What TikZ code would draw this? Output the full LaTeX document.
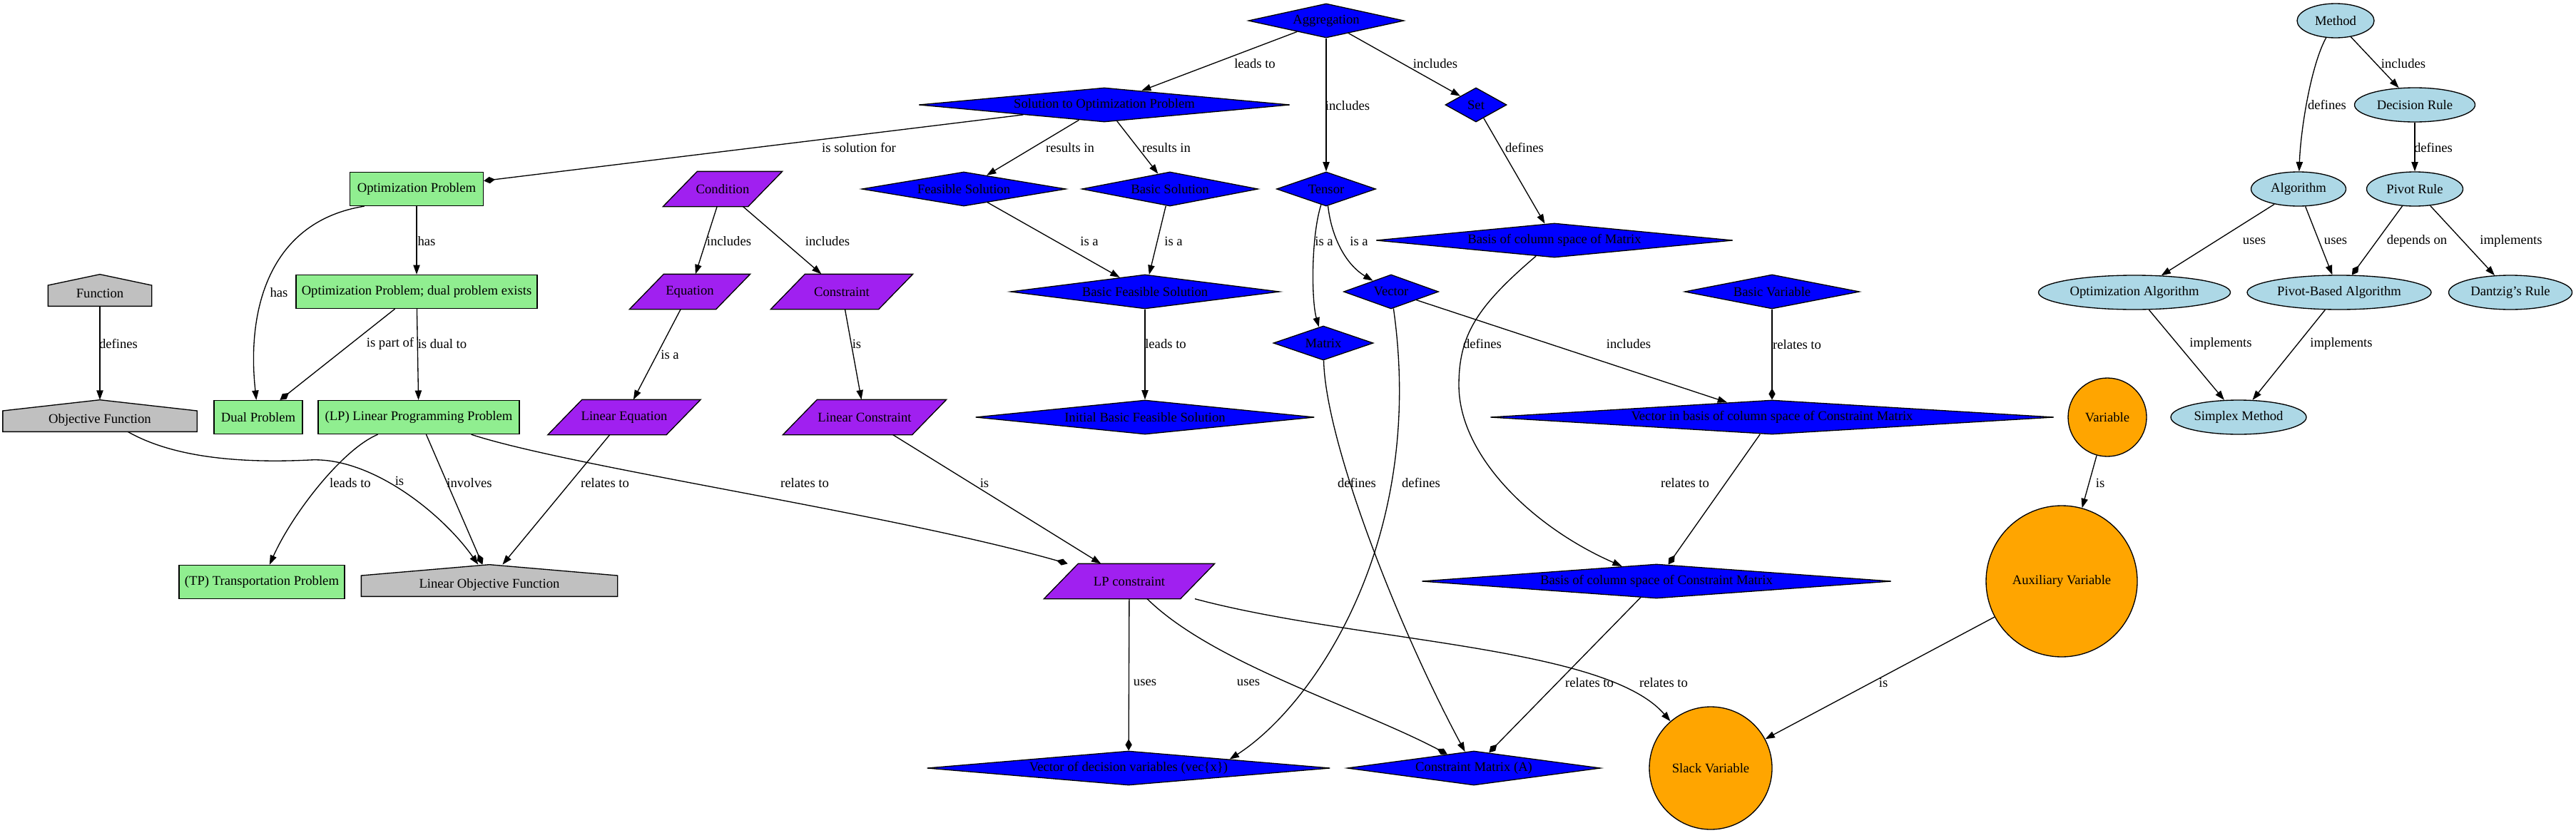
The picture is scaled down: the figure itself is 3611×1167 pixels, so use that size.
\documentclass[tikz,border=0pt]{standalone}
\usepackage{fontspec}
\setmainfont{Liberation Serif}
\usetikzlibrary{shapes.geometric,arrows.meta}
\definecolor{dblue}{RGB}{0,0,255}
\definecolor{purp}{RGB}{160,32,240}
\definecolor{lgreen}{RGB}{144,238,144}
\definecolor{lgrey}{RGB}{192,192,192}
\definecolor{lblue}{RGB}{173,216,230}
\definecolor{orng}{RGB}{255,165,0}
\pgfdeclarelayer{background}
\pgfsetlayers{background,main}
\tikzset{
 base/.style={font=\fontsize{14}{16}\selectfont, inner sep=0pt, line width=1pt},
 bd/.style={base, diamond, draw=black, fill=dblue, minimum width=#1*0.75pt, minimum height=36pt,
   /utils/exec={\pgfmathsetmacro\myasp{#1/48}}, aspect=\myasp},
 gbox/.style={base, rectangle, draw=black, fill=lgreen, minimum width=#1*0.75pt, minimum height=35.25pt},
 ell/.style={base, ellipse, draw=black, fill=lblue, minimum width=#1*0.75pt, minimum height=36pt},
 circ/.style={base, circle, draw=black, fill=orng, minimum size=#1*0.75pt},
 para/.style={base, rectangle, minimum width=#1*0.75pt, minimum height=36pt},
 hs/.style={base, rectangle, minimum width=#1*0.75pt, minimum height=32.5pt, text height=19pt, text depth=3.5pt},
 lbl/.style={font=\fontsize{14}{16}\selectfont, inner sep=1pt},
 arr/.style={line width=1pt, -{Triangle[length=10pt,width=7pt]}},
 darr/.style={line width=1pt, -{Diamond[length=12pt,width=7pt]}},
 pshape/.style={fill=purp, draw=black, line width=1pt},
 hshape/.style={fill=lgrey, draw=black, line width=1pt},
}
\begin{document}
\begin{tikzpicture}[x=0.75pt,y=-0.75pt]
\begin{pgfonlayer}{background}
\fill[white] (0,0) rectangle (3611,1167);
\end{pgfonlayer}
\useasboundingbox (0,0) rectangle (3611,1167);

% blue diamonds
\node[bd=218] (agg) at (1859,29) {Aggregation};
\node[bd=520] (sol) at (1548,147) {Solution to Optimization Problem};
\node[bd=86] (set) at (2069,147) {Set};
\node[bd=286] (feas) at (1351,265) {Feasible Solution};
\node[bd=247] (bsol) at (1640,265) {Basic Solution};
\node[bd=139] (tensor) at (1859,265) {Tensor};
\node[bd=500] (bcm) at (2179,337) {Basis of column space of Matrix};
\node[bd=377] (bfs) at (1605,409) {Basic Feasible Solution};
\node[bd=133] (vector) at (1950,409) {Vector};
\node[bd=245] (bvar) at (2484,409) {Basic Variable};
\node[bd=140] (matrix) at (1855,481) {Matrix};
\node[bd=475] (ibfs) at (1605,585) {Initial Basic Feasible Solution};
\node[bd=790] (vib) at (2484,585) {Vector in basis of column space of Constraint Matrix};
\node[bd=658] (bccm) at (2322,815) {Basis of column space of Constraint Matrix};
\node[bd=565] (vecx) at (1582,1077) {Vector of decision variables (vec\{x\})};
\node[bd=355] (cmat) at (2066,1077) {Constraint Matrix (A)};

% green boxes
\node[gbox=187] (optp) at (584,265) {Optimization Problem};
\node[gbox=338] (optd) at (584,409) {Optimization Problem; dual problem exists};
\node[gbox=124] (dual) at (362,585) {Dual Problem};
\node[gbox=282] (lp) at (587,585) {(LP) Linear Programming Problem};
\node[gbox=232] (tp) at (367,816) {(TP) Transportation Problem};

% grey houses
\node[hs=144] (func) at (140,407) {Function};
\node[hs=271] (objf) at (140,583) {Objective Function};
\node[hs=358] (linobj) at (686,814) {Linear Objective Function};

% purple parallelograms
\node[para=118] (cond) at (1013,265) {Condition};
\node[para=120] (eq) at (967,409) {Equation};
\node[para=150] (con) at (1180,409) {Constraint};
\node[para=165] (lineq) at (875,585) {Linear Equation};
\node[para=180] (lincon) at (1212,585) {Linear Constraint};
\node[para=190] (lpcon) at (1583,815) {LP constraint};

% light blue ellipses
\node[ell=108] (method) at (3274,29) {Method};
\node[ell=169] (dr) at (3385,147) {Decision Rule};
\node[ell=133] (alg) at (3222,265) {Algorithm};
\node[ell=135] (pr) at (3385,265) {Pivot Rule};
\node[ell=269] (optalg) at (2992,410) {Optimization Algorithm};
\node[ell=258] (pb) at (3279,410) {Pivot-Based Algorithm};
\node[ell=173] (dantzig) at (3519,410) {Dantzig's Rule};
\node[ell=190] (simplex) at (3138,585) {Simplex Method};

% orange circles
\node[circ=110] (var) at (2954,585) {Variable};
\node[circ=212] (aux) at (2890,815) {Auxiliary Variable};
\node[circ=172] (slack) at (2398,1077) {Slack Variable};

\begin{pgfonlayer}{background}
\foreach \n in {cond,eq,con,lineq,lincon,lpcon}{
  \path[pshape] ([xshift=-18pt]\n.south west) -- ([xshift=-18pt]\n.south east)
     -- ([xshift=18pt]\n.north east) -- ([xshift=18pt]\n.north west) -- cycle;}
\foreach \n in {func,objf,linobj}{
  \path[hshape] (\n.south west) -- (\n.south east) -- ([yshift=-11.5pt]\n.north east)
     -- (\n.north) -- ([yshift=-11.5pt]\n.north west) -- cycle;}
\end{pgfonlayer}

% edges: top component
\draw[arr] (agg) -- (sol) node[lbl,at={(1759,89)}] {leads to};
\draw[arr] (agg) -- (tensor) node[lbl,at={(1889,148)}] {includes};
\draw[arr] (agg) -- (set) node[lbl,at={(2012,89)}] {includes};
\draw[darr] (sol) -- (optp) node[lbl,at={(1204,207)}] {is solution for};
\draw[arr] (sol) -- (feas) node[lbl,at={(1500,207)}] {results in};
\draw[arr] (sol) -- (bsol) node[lbl,at={(1635,207)}] {results in};
\draw[arr] (set) -- (bcm) node[lbl,at={(2137,207)}] {defines};
\draw[arr] (feas) -- (bfs) node[lbl,at={(1527,338)}] {is a};
\draw[arr] (bsol) -- (bfs) node[lbl,at={(1645,338)}] {is a};
\draw[arr] (bfs) -- (ibfs) node[lbl,at={(1634,482)}] {leads to};
\draw[arr] (tensor) .. controls (1838,330) and (1838,420) .. (matrix) node[lbl,at={(1856,338)}] {is a};
\draw[arr] (tensor) .. controls (1866,330) and (1885,370) .. (vector) node[lbl,at={(1905,338)}] {is a};
\draw[arr] (vector) -- (vib) node[lbl,at={(2283,482)}] {includes};
\draw[arr] (bcm) .. controls (2070,430) and (2045,470) .. (2045,540) .. controls (2045,640) and (2150,740) .. (bccm) node[lbl,at={(2078,482)}] {defines};
\draw[darr] (bvar) -- (vib) node[lbl,at={(2519,483)}] {relates to};
\draw[darr] (vib) -- (bccm) node[lbl,at={(2362,677)}] {relates to};
\draw[darr] (bccm) -- (cmat) node[lbl,at={(2228,957)}] {relates to};
\draw[arr] (matrix) .. controls (1858,620) and (1960,880) .. (cmat) node[lbl,at={(1902,677)}] {defines};
\draw[arr] (vector) .. controls (2000,760) and (1840,990) .. (vecx.north east) node[lbl,at={(1992,677)}] {defines};
\draw[darr] (lpcon) -- (vecx) node[lbl,at={(1605,957)}] {uses};
\draw[darr] (lpcon) .. controls (1700,930) and (1900,990) .. (cmat) node[lbl,at={(1750,957)}] {uses};
\draw[arr] (lpcon) .. controls (1900,900) and (2250,905) .. (slack) node[lbl,at={(2332,957)}] {relates to};
\draw[arr] (var) -- (aux) node[lbl,at={(2944,677)}] {is};
\draw[arr] (aux) -- (slack) node[lbl,at={(2640,957)}] {is};

% left part
\draw[arr] (cond) -- (eq) node[lbl,at={(1022,338)}] {includes};
\draw[arr] (cond) -- (con) node[lbl,at={(1160,338)}] {includes};
\draw[arr] (eq) -- (lineq) node[lbl,at={(939,497)}] {is a};
\draw[arr] (con) -- (lincon) node[lbl,at={(1201,482)}] {is};
\draw[arr] (lincon) -- (lpcon) node[lbl,at={(1380,677)}] {is};
\draw[arr] (lineq) -- (linobj) node[lbl,at={(848,677)}] {relates to};
\draw[darr] (lp) -- (linobj) node[lbl,at={(658,677)}] {involves};
\draw[arr] (objf) .. controls (240,640) and (330,650) .. (434,645) .. controls (520,640) and (620,720) .. (linobj) node[lbl,at={(560,674)}] {is};
\draw[arr] (lp) .. controls (480,630) and (410,720) .. (tp) node[lbl,at={(491,677)}] {leads to};
\draw[darr] (lp) .. controls (800,655) and (1250,720) .. (lpcon) node[lbl,at={(1128,677)}] {relates to};
\draw[arr] (func) -- (objf) node[lbl,at={(166,482)}] {defines};
\draw[arr] (optp) -- (optd) node[lbl,at={(598,338)}] {has};
\draw[arr] ([xshift=-55pt]optp.south) .. controls (380,310) and (345,430) .. (dual) node[lbl,at={(391,410)}] {has};
\draw[darr] (optd) -- (dual) node[lbl,at={(547,482)}] {is part of};
\draw[arr] (optd) -- (lp) node[lbl,at={(620,482)}] {is dual to};

% right cluster
\draw[arr] (method) .. controls (3240,90) and (3225,180) .. (alg) node[lbl,at={(3262,147)}] {defines};
\draw[arr] (method) -- (dr) node[lbl,at={(3369,89)}] {includes};
\draw[arr] (dr) -- (pr) node[lbl,at={(3411,207)}] {defines};
\draw[arr] (alg) -- (optalg) node[lbl,at={(3160,338)}] {uses};
\draw[arr] (alg) -- (pb) node[lbl,at={(3274,338)}] {uses};
\draw[darr] (pr) -- (pb) node[lbl,at={(3388,338)}] {depends on};
\draw[arr] (pr) -- (dantzig) node[lbl,at={(3520,338)}] {implements};
\draw[arr] (optalg) -- (simplex) node[lbl,at={(3113,482)}] {implements};
\draw[arr] (pb) -- (simplex) node[lbl,at={(3282,482)}] {implements};
\end{tikzpicture}
\end{document}
